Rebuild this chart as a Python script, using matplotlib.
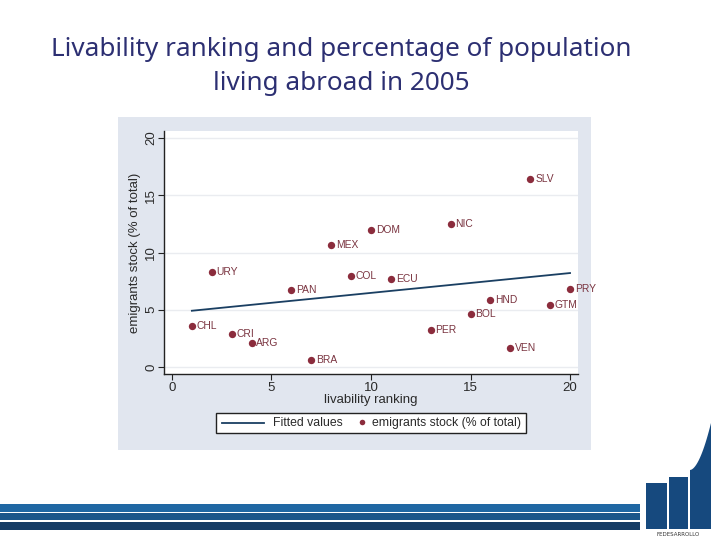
import numpy as np
import matplotlib.pyplot as plt
from matplotlib.patches import Rectangle, Polygon
from matplotlib.lines import Line2D

# datos
paises = ['CHL', 'URY', 'CRI', 'ARG', 'PAN', 'BRA', 'MEX', 'COL', 'DOM',
          'ECU', 'PER', 'NIC', 'BOL', 'HND', 'VEN', 'SLV', 'GTM', 'PRY']
ranking = [1, 2, 3, 4, 6, 7, 8, 9, 10, 11, 13, 14, 15, 16, 17, 18, 19, 20]
emigrantes = [3.57, 8.3, 2.91, 2.07, 6.69, 0.6, 10.66, 7.98, 11.99,
              7.72, 3.2, 12.48, 4.61, 5.82, 1.67, 16.37, 5.39, 6.8]
ticks = [0, 5, 10, 15, 20]

W, H = 720, 540
fig = plt.figure(figsize=(7.2, 5.4), dpi=100)
fig.patch.set_facecolor('white')

def fx(px):
    return px / W

def fy(py):
    return 1 - py / H

col_punto = '#8b2c3c'
col_linea = '#1a3f62'
col_texto = '#2a2a2a'

# fondo del gráfico tipo Stata
fig.patches.append(Rectangle((fx(118), fy(450)), fx(591) - fx(118), fy(117) - fy(450),
                             transform=fig.transFigure, facecolor='#e1e6ef',
                             edgecolor='none', zorder=-5))

ax = fig.add_axes([fx(164), fy(374), fx(578) - fx(164), fy(131) - fy(374)])
ax.set_facecolor('white')

x = np.array(ranking)
y = np.array(emigrantes)
m, b = np.polyfit(x, y, 1)
xs = np.array([x.min(), x.max()])

for t in ticks:
    ax.axhline(t, color='#eaecf0', lw=1.0, zorder=1)

ax.plot(xs, m * xs + b, color=col_linea, lw=1.3, zorder=2)
ax.scatter(x, y, s=28, color=col_punto, zorder=3, linewidths=0)
for p, xi, yi in zip(paises, x, y):
    ax.annotate(p, (xi, yi), xytext=(3.5, 0), textcoords='offset points',
                va='center', ha='left', fontsize=7.4, color='#7a3440',
                family='Liberation Sans', zorder=4, annotation_clip=False)

ax.set_xlim(-0.4, 20.4)
ax.set_ylim(-0.6, 20.6)
ax.set_xticks(ticks)
ax.set_yticks(ticks)
ax.set_xticklabels([str(t) for t in ticks], family='Liberation Sans', fontsize=9.5,
                   color=col_texto)
ax.set_yticklabels([str(t) for t in ticks], family='Liberation Sans', fontsize=9.5,
                   rotation=90, va='center', color=col_texto)
ax.tick_params(direction='out', length=4, width=0.8, color='#222222', pad=2)
ax.tick_params(axis='y', pad=1)
for s in ['top', 'right']:
    ax.spines[s].set_visible(False)
for s in ['left', 'bottom']:
    ax.spines[s].set_color('#222222')
    ax.spines[s].set_linewidth(1.0)

ax.set_xlabel('livability ranking', family='Liberation Sans', fontsize=9.5,
              labelpad=0, color=col_texto)
ax.set_ylabel('emigrants stock (% of total)', family='Liberation Sans', fontsize=9.5,
              labelpad=3, color=col_texto)

# leyenda dibujada a mano (como en Stata)
fig.patches.append(Rectangle((fx(216), fy(433)), fx(526) - fx(216), fy(413) - fy(433),
                             transform=fig.transFigure, facecolor='white',
                             edgecolor='#222222', lw=1.0))
fig.lines.append(Line2D([fx(222), fx(264)], [fy(423), fy(423)], transform=fig.transFigure,
                        color=col_linea, lw=1.3))
fig.text(fx(273), fy(423), 'Fitted values', ha='left', va='center',
         family='Liberation Sans', fontsize=8.8, color=col_texto)
fig.lines.append(Line2D([fx(362)], [fy(422)], transform=fig.transFigure, marker='o',
                        markersize=4, color=col_punto, markeredgewidth=0))
fig.text(fx(372), fy(423), 'emigrants stock (% of total)', ha='left', va='center',
         family='Liberation Sans', fontsize=8.8, color=col_texto)

# título
fig.text(fx(341), fy(50), 'Livability ranking and percentage of population',
         ha='center', va='center', fontsize=18.8, color='#2c2f72', family='Noto Sans')
fig.text(fx(341), fy(84), 'living abroad in 2005',
         ha='center', va='center', fontsize=18.8, color='#2c2f72', family='Noto Sans')

# franjas inferiores
for y0, y1, c in [(504, 512, '#1f67a3'), (513, 520, '#1b568a'), (522, 530, '#163d66')]:
    fig.patches.append(Rectangle((0, fy(y1)), fx(640), fy(y0) - fy(y1),
                                 transform=fig.transFigure, facecolor=c,
                                 edgecolor='none'))

# logo
azul = '#16497e'
fig.patches.append(Rectangle((fx(646), fy(529)), fx(21), fy(483) - fy(529),
                             transform=fig.transFigure, facecolor=azul, edgecolor='none'))
fig.patches.append(Rectangle((fx(669), fy(529)), fx(19), fy(477) - fy(529),
                             transform=fig.transFigure, facecolor=azul, edgecolor='none'))
cx = np.linspace(690, 711, 20)
cy = 470 - 47 * ((cx - 690) / 21) ** 1.8
pts = [(fx(690), fy(529))] + [(fx(a), fy(c)) for a, c in zip(cx, cy)] + [(fx(711), fy(529))]
fig.patches.append(Polygon(pts, closed=True, transform=fig.transFigure,
                           facecolor=azul, edgecolor='none'))
fig.text(fx(678), fy(535), 'FEDESARROLLO', ha='center', va='center', fontsize=4,
         color='#333333')

fig.savefig('out.png', dpi=100)
